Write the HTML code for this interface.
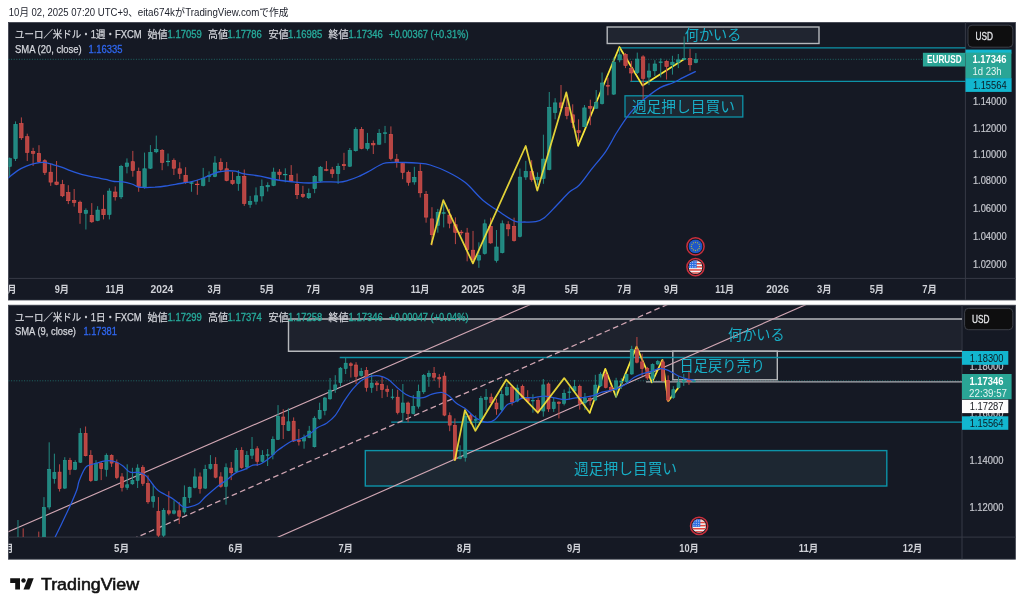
<!DOCTYPE html>
<html lang="ja"><head><meta charset="utf-8"><title>EURUSD chart</title>
<style>html,body{margin:0;padding:0;background:#fff;}svg{display:block;will-change:transform}</style></head>
<body>
<svg width="1024" height="609" viewBox="0 0 1024 609" font-family="Liberation Sans, Noto Sans CJK JP, sans-serif">
<defs>
<clipPath id="cpT"><rect x="8.5" y="22.5" width="957" height="256"/></clipPath>
<clipPath id="cpB"><rect x="8.5" y="305.2" width="953.5" height="231.8"/></clipPath>
<clipPath id="cpTA"><rect x="8.5" y="278" width="957" height="22"/></clipPath>
<clipPath id="cpBA"><rect x="8.5" y="537" width="953.5" height="22"/></clipPath>
<clipPath id="ic"><circle cx="0" cy="0" r="6.9"/></clipPath>
</defs>
<rect width="1024" height="609" fill="#fff"/>
<text x="8.80" y="16.38" font-size="10" fill="#1c1f2a" textLength="129.00" lengthAdjust="spacingAndGlyphs" >10月 02, 2025 07:20 UTC+9、</text>
<text x="137.70" y="16.38" font-size="10" fill="#1c1f2a" textLength="37.20" lengthAdjust="spacingAndGlyphs" >eita674k</text>
<text x="175.00" y="16.38" font-size="10" fill="#1c1f2a" textLength="10.00" lengthAdjust="spacingAndGlyphs" >が</text>
<text x="185.20" y="16.38" font-size="10" fill="#1c1f2a" textLength="74.10" lengthAdjust="spacingAndGlyphs" >TradingView.com</text>
<text x="259.30" y="16.38" font-size="10" fill="#1c1f2a" textLength="29.30" lengthAdjust="spacingAndGlyphs" >で作成</text>
<rect x="8.5" y="22.5" width="1006.9" height="277.5" fill="#151924"/>
<rect x="8.5" y="22.5" width="1006.9" height="277.5" fill="none" stroke="#3b3f4b" stroke-width=".8"/>
<path d="M965.4 22.5V300" stroke="#363a46" stroke-width="1"/>
<path d="M8.5 278.4H1015.4" stroke="#363a46" stroke-width="1"/>
<path d="M8.5 59.3H923" stroke="#26a69a" stroke-width="1" stroke-dasharray="1 1.6" opacity=".55"/>
<rect x="607.2" y="27" width="211.8" height="16.5" fill="#2a303b" fill-opacity=".55" stroke="#b6b8bc" stroke-width="1.4"/>
<path d="M619.4 47.8H965.4" stroke="#0d93a8" stroke-width="1.3"/>
<path d="M630.3 81.4H965.4" stroke="#0d93a8" stroke-width="1.3"/>
<rect x="625" y="95.8" width="117.8" height="21.2" fill="#25353f" fill-opacity=".5" stroke="#0d93a8" stroke-width="1.3"/>
<g clip-path="url(#cpT)">
<polyline points="578.2,145.6 619.4,47.0 642.6,85.6 683.9,59.3" fill="none" stroke="#f7e53a" stroke-width="1.75" stroke-linejoin="round" stroke-linecap="round" />
</g>
<g clip-path="url(#cpT)">
<path d="M9.65 157.5V176.8" stroke="#238a82" stroke-width="1"/>
<rect x="7.95" y="158.6" width="3.4" height="7.7" fill="#228780" stroke="#25a296" stroke-width=".6"/>
<path d="M15.52 121.4V161.0" stroke="#238a82" stroke-width="1"/>
<rect x="13.82" y="124.4" width="3.4" height="34.2" fill="#228780" stroke="#25a296" stroke-width=".6"/>
<path d="M21.38 117.4V139.9" stroke="#bb4745" stroke-width="1"/>
<rect x="19.68" y="123.5" width="3.4" height="14.3" fill="#b74644" stroke="#df514c" stroke-width=".6"/>
<path d="M27.25 133.7V161.0" stroke="#bb4745" stroke-width="1"/>
<rect x="25.55" y="136.7" width="3.4" height="15.7" fill="#b74644" stroke="#df514c" stroke-width=".6"/>
<path d="M33.11 147.8V165.9" stroke="#bb4745" stroke-width="1"/>
<rect x="31.41" y="151.6" width="3.4" height="1.7" fill="#b74644" stroke="#df514c" stroke-width=".6"/>
<path d="M38.98 145.2V162.7" stroke="#bb4745" stroke-width="1"/>
<rect x="37.28" y="153.4" width="3.4" height="8.2" fill="#b74644" stroke="#df514c" stroke-width=".6"/>
<path d="M44.84 159.2V175.0" stroke="#bb4745" stroke-width="1"/>
<rect x="43.14" y="160.7" width="3.4" height="11.8" fill="#b74644" stroke="#df514c" stroke-width=".6"/>
<path d="M50.71 163.6V185.9" stroke="#bb4745" stroke-width="1"/>
<rect x="49.01" y="172.2" width="3.4" height="9.9" fill="#b74644" stroke="#df514c" stroke-width=".6"/>
<path d="M56.57 161.0V185.2" stroke="#bb4745" stroke-width="1"/>
<rect x="54.87" y="182.0" width="3.4" height="2.4" fill="#b74644" stroke="#df514c" stroke-width=".6"/>
<path d="M62.44 179.9V197.1" stroke="#bb4745" stroke-width="1"/>
<rect x="60.74" y="184.6" width="3.4" height="11.2" fill="#b74644" stroke="#df514c" stroke-width=".6"/>
<path d="M68.30 185.2V204.1" stroke="#bb4745" stroke-width="1"/>
<rect x="66.60" y="192.5" width="3.4" height="8.2" fill="#b74644" stroke="#df514c" stroke-width=".6"/>
<path d="M74.17 189.0V206.6" stroke="#bb4745" stroke-width="1"/>
<rect x="72.47" y="200.4" width="3.4" height="2.0" fill="#b74644" stroke="#df514c" stroke-width=".6"/>
<path d="M80.03 200.6V223.8" stroke="#bb4745" stroke-width="1"/>
<rect x="78.33" y="202.2" width="3.4" height="10.4" fill="#b74644" stroke="#df514c" stroke-width=".6"/>
<path d="M85.90 208.4V229.5" stroke="#238a82" stroke-width="1"/>
<rect x="84.20" y="210.4" width="3.4" height="2.9" fill="#228780" stroke="#25a296" stroke-width=".6"/>
<path d="M91.77 203.1V222.9" stroke="#bb4745" stroke-width="1"/>
<rect x="90.07" y="215.3" width="3.4" height="6.5" fill="#b74644" stroke="#df514c" stroke-width=".6"/>
<path d="M97.63 206.2V221.2" stroke="#238a82" stroke-width="1"/>
<rect x="95.93" y="210.1" width="3.4" height="10.3" fill="#228780" stroke="#25a296" stroke-width=".6"/>
<path d="M103.50 194.8V219.4" stroke="#bb4745" stroke-width="1"/>
<rect x="101.80" y="209.2" width="3.4" height="5.5" fill="#b74644" stroke="#df514c" stroke-width=".6"/>
<path d="M109.36 188.3V219.4" stroke="#238a82" stroke-width="1"/>
<rect x="107.66" y="191.1" width="3.4" height="23.3" fill="#228780" stroke="#25a296" stroke-width=".6"/>
<path d="M115.23 186.4V200.6" stroke="#bb4745" stroke-width="1"/>
<rect x="113.53" y="192.0" width="3.4" height="4.8" fill="#b74644" stroke="#df514c" stroke-width=".6"/>
<path d="M121.09 164.9V198.9" stroke="#238a82" stroke-width="1"/>
<rect x="119.39" y="166.5" width="3.4" height="30.3" fill="#228780" stroke="#25a296" stroke-width=".6"/>
<path d="M126.96 158.4V173.4" stroke="#238a82" stroke-width="1"/>
<rect x="125.26" y="163.0" width="3.4" height="3.4" fill="#228780" stroke="#25a296" stroke-width=".6"/>
<path d="M132.82 150.9V176.7" stroke="#bb4745" stroke-width="1"/>
<rect x="131.12" y="161.7" width="3.4" height="8.7" fill="#b74644" stroke="#df514c" stroke-width=".6"/>
<path d="M138.69 167.6V191.8" stroke="#bb4745" stroke-width="1"/>
<rect x="136.99" y="171.4" width="3.4" height="15.2" fill="#b74644" stroke="#df514c" stroke-width=".6"/>
<path d="M144.55 152.6V188.7" stroke="#238a82" stroke-width="1"/>
<rect x="142.85" y="168.8" width="3.4" height="18.3" fill="#228780" stroke="#25a296" stroke-width=".6"/>
<path d="M150.42 145.1V169.0" stroke="#238a82" stroke-width="1"/>
<rect x="148.72" y="152.4" width="3.4" height="15.8" fill="#228780" stroke="#25a296" stroke-width=".6"/>
<path d="M156.28 135.6V153.2" stroke="#238a82" stroke-width="1"/>
<rect x="154.59" y="149.4" width="3.4" height="2.4" fill="#228780" stroke="#25a296" stroke-width=".6"/>
<path d="M162.15 149.1V170.2" stroke="#bb4745" stroke-width="1"/>
<rect x="160.45" y="150.3" width="3.4" height="12.1" fill="#b74644" stroke="#df514c" stroke-width=".6"/>
<path d="M168.02 153.5V166.2" stroke="#238a82" stroke-width="1"/>
<rect x="166.32" y="161.2" width="3.4" height="0.6" fill="#228780" stroke="#25a296" stroke-width=".6"/>
<path d="M173.88 158.4V175.0" stroke="#bb4745" stroke-width="1"/>
<rect x="172.18" y="160.5" width="3.4" height="7.7" fill="#b74644" stroke="#df514c" stroke-width=".6"/>
<path d="M179.75 162.3V179.0" stroke="#bb4745" stroke-width="1"/>
<rect x="178.05" y="168.8" width="3.4" height="4.6" fill="#b74644" stroke="#df514c" stroke-width=".6"/>
<path d="M185.61 167.2V183.8" stroke="#bb4745" stroke-width="1"/>
<rect x="183.91" y="175.3" width="3.4" height="7.4" fill="#b74644" stroke="#df514c" stroke-width=".6"/>
<path d="M191.48 181.3V191.8" stroke="#238a82" stroke-width="1"/>
<rect x="189.78" y="182.7" width="3.4" height="0.6" fill="#228780" stroke="#25a296" stroke-width=".6"/>
<path d="M197.34 179.9V194.8" stroke="#bb4745" stroke-width="1"/>
<rect x="195.64" y="184.1" width="3.4" height="0.6" fill="#b74644" stroke="#df514c" stroke-width=".6"/>
<path d="M203.21 167.9V186.4" stroke="#238a82" stroke-width="1"/>
<rect x="201.51" y="178.4" width="3.4" height="7.0" fill="#228780" stroke="#25a296" stroke-width=".6"/>
<path d="M209.07 171.4V182.0" stroke="#238a82" stroke-width="1"/>
<rect x="207.37" y="175.8" width="3.4" height="0.6" fill="#228780" stroke="#25a296" stroke-width=".6"/>
<path d="M214.94 156.2V177.2" stroke="#238a82" stroke-width="1"/>
<rect x="213.24" y="163.0" width="3.4" height="13.4" fill="#228780" stroke="#25a296" stroke-width=".6"/>
<path d="M220.80 158.3V171.1" stroke="#bb4745" stroke-width="1"/>
<rect x="219.10" y="162.3" width="3.4" height="7.1" fill="#b74644" stroke="#df514c" stroke-width=".6"/>
<path d="M226.67 162.0V181.3" stroke="#bb4745" stroke-width="1"/>
<rect x="224.97" y="168.8" width="3.4" height="11.7" fill="#b74644" stroke="#df514c" stroke-width=".6"/>
<path d="M232.54 172.0V184.8" stroke="#bb4745" stroke-width="1"/>
<rect x="230.84" y="180.5" width="3.4" height="3.0" fill="#b74644" stroke="#df514c" stroke-width=".6"/>
<path d="M238.40 170.2V190.8" stroke="#238a82" stroke-width="1"/>
<rect x="236.70" y="176.3" width="3.4" height="7.2" fill="#228780" stroke="#25a296" stroke-width=".6"/>
<path d="M244.27 169.5V205.9" stroke="#bb4745" stroke-width="1"/>
<rect x="242.57" y="176.3" width="3.4" height="27.2" fill="#b74644" stroke="#df514c" stroke-width=".6"/>
<path d="M250.13 195.9V207.8" stroke="#238a82" stroke-width="1"/>
<rect x="248.43" y="201.4" width="3.4" height="2.9" fill="#228780" stroke="#25a296" stroke-width=".6"/>
<path d="M256.00 187.4V204.6" stroke="#238a82" stroke-width="1"/>
<rect x="254.30" y="195.8" width="3.4" height="5.4" fill="#228780" stroke="#25a296" stroke-width=".6"/>
<path d="M261.86 179.5V201.5" stroke="#238a82" stroke-width="1"/>
<rect x="260.16" y="186.5" width="3.4" height="9.4" fill="#228780" stroke="#25a296" stroke-width=".6"/>
<path d="M267.73 182.3V191.5" stroke="#238a82" stroke-width="1"/>
<rect x="266.03" y="185.3" width="3.4" height="1.5" fill="#228780" stroke="#25a296" stroke-width=".6"/>
<path d="M273.59 167.7V186.2" stroke="#238a82" stroke-width="1"/>
<rect x="271.89" y="172.1" width="3.4" height="13.3" fill="#228780" stroke="#25a296" stroke-width=".6"/>
<path d="M279.46 169.1V179.7" stroke="#bb4745" stroke-width="1"/>
<rect x="277.76" y="172.1" width="3.4" height="2.4" fill="#b74644" stroke="#df514c" stroke-width=".6"/>
<path d="M285.32 168.3V182.3" stroke="#238a82" stroke-width="1"/>
<rect x="283.62" y="174.3" width="3.4" height="0.6" fill="#228780" stroke="#25a296" stroke-width=".6"/>
<path d="M291.19 165.1V182.1" stroke="#bb4745" stroke-width="1"/>
<rect x="289.49" y="175.4" width="3.4" height="5.7" fill="#b74644" stroke="#df514c" stroke-width=".6"/>
<path d="M297.05 173.5V199.0" stroke="#bb4745" stroke-width="1"/>
<rect x="295.35" y="184.4" width="3.4" height="10.3" fill="#b74644" stroke="#df514c" stroke-width=".6"/>
<path d="M302.92 185.8V198.0" stroke="#bb4745" stroke-width="1"/>
<rect x="301.22" y="194.4" width="3.4" height="2.0" fill="#b74644" stroke="#df514c" stroke-width=".6"/>
<path d="M308.79 188.5V199.0" stroke="#238a82" stroke-width="1"/>
<rect x="307.09" y="193.5" width="3.4" height="4.2" fill="#228780" stroke="#25a296" stroke-width=".6"/>
<path d="M314.65 175.1V193.2" stroke="#238a82" stroke-width="1"/>
<rect x="312.95" y="176.5" width="3.4" height="12.0" fill="#228780" stroke="#25a296" stroke-width=".6"/>
<path d="M320.52 166.0V182.1" stroke="#238a82" stroke-width="1"/>
<rect x="318.82" y="167.2" width="3.4" height="13.9" fill="#228780" stroke="#25a296" stroke-width=".6"/>
<path d="M326.38 161.1V171.2" stroke="#bb4745" stroke-width="1"/>
<rect x="324.68" y="169.7" width="3.4" height="0.6" fill="#b74644" stroke="#df514c" stroke-width=".6"/>
<path d="M332.25 166.9V177.8" stroke="#bb4745" stroke-width="1"/>
<rect x="330.55" y="169.8" width="3.4" height="3.8" fill="#b74644" stroke="#df514c" stroke-width=".6"/>
<path d="M338.11 163.3V183.9" stroke="#238a82" stroke-width="1"/>
<rect x="336.41" y="166.3" width="3.4" height="7.3" fill="#228780" stroke="#25a296" stroke-width=".6"/>
<path d="M343.98 152.8V170.0" stroke="#bb4745" stroke-width="1"/>
<rect x="342.28" y="164.5" width="3.4" height="1.2" fill="#b74644" stroke="#df514c" stroke-width=".6"/>
<path d="M349.84 148.0V167.0" stroke="#238a82" stroke-width="1"/>
<rect x="348.14" y="150.5" width="3.4" height="15.7" fill="#228780" stroke="#25a296" stroke-width=".6"/>
<path d="M355.71 127.3V151.6" stroke="#238a82" stroke-width="1"/>
<rect x="354.01" y="129.4" width="3.4" height="21.3" fill="#228780" stroke="#25a296" stroke-width=".6"/>
<path d="M361.57 127.0V149.3" stroke="#bb4745" stroke-width="1"/>
<rect x="359.87" y="129.4" width="3.4" height="19.1" fill="#b74644" stroke="#df514c" stroke-width=".6"/>
<path d="M367.44 132.9V150.5" stroke="#238a82" stroke-width="1"/>
<rect x="365.74" y="143.4" width="3.4" height="5.1" fill="#228780" stroke="#25a296" stroke-width=".6"/>
<path d="M373.30 140.5V154.0" stroke="#bb4745" stroke-width="1"/>
<rect x="371.60" y="143.4" width="3.4" height="1.5" fill="#b74644" stroke="#df514c" stroke-width=".6"/>
<path d="M379.17 129.1V144.9" stroke="#238a82" stroke-width="1"/>
<rect x="377.47" y="133.4" width="3.4" height="10.8" fill="#228780" stroke="#25a296" stroke-width=".6"/>
<path d="M385.04 125.9V143.1" stroke="#238a82" stroke-width="1"/>
<rect x="383.34" y="132.8" width="3.4" height="0.6" fill="#228780" stroke="#25a296" stroke-width=".6"/>
<path d="M390.90 126.4V160.4" stroke="#bb4745" stroke-width="1"/>
<rect x="389.20" y="134.3" width="3.4" height="24.3" fill="#b74644" stroke="#df514c" stroke-width=".6"/>
<path d="M396.77 154.0V167.7" stroke="#bb4745" stroke-width="1"/>
<rect x="395.07" y="159.2" width="3.4" height="3.3" fill="#b74644" stroke="#df514c" stroke-width=".6"/>
<path d="M402.63 162.5V179.2" stroke="#bb4745" stroke-width="1"/>
<rect x="400.93" y="163.6" width="3.4" height="8.8" fill="#b74644" stroke="#df514c" stroke-width=".6"/>
<path d="M408.50 170.6V185.7" stroke="#bb4745" stroke-width="1"/>
<rect x="406.80" y="172.3" width="3.4" height="10.0" fill="#b74644" stroke="#df514c" stroke-width=".6"/>
<path d="M414.36 166.8V184.7" stroke="#238a82" stroke-width="1"/>
<rect x="412.66" y="177.3" width="3.4" height="4.6" fill="#228780" stroke="#25a296" stroke-width=".6"/>
<path d="M420.23 164.1V197.5" stroke="#bb4745" stroke-width="1"/>
<rect x="418.53" y="171.5" width="3.4" height="21.3" fill="#b74644" stroke="#df514c" stroke-width=".6"/>
<path d="M426.09 191.0V222.7" stroke="#bb4745" stroke-width="1"/>
<rect x="424.39" y="194.3" width="3.4" height="22.8" fill="#b74644" stroke="#df514c" stroke-width=".6"/>
<path d="M431.96 207.2V245.5" stroke="#bb4745" stroke-width="1"/>
<rect x="430.26" y="218.9" width="3.4" height="15.8" fill="#b74644" stroke="#df514c" stroke-width=".6"/>
<path d="M437.82 208.9V232.7" stroke="#238a82" stroke-width="1"/>
<rect x="436.12" y="212.4" width="3.4" height="12.9" fill="#228780" stroke="#25a296" stroke-width=".6"/>
<path d="M443.69 203.3V227.4" stroke="#238a82" stroke-width="1"/>
<rect x="441.99" y="212.7" width="3.4" height="0.6" fill="#228780" stroke="#25a296" stroke-width=".6"/>
<path d="M449.56 208.9V228.3" stroke="#bb4745" stroke-width="1"/>
<rect x="447.86" y="215.0" width="3.4" height="8.2" fill="#b74644" stroke="#df514c" stroke-width=".6"/>
<path d="M455.42 217.4V244.1" stroke="#bb4745" stroke-width="1"/>
<rect x="453.72" y="224.7" width="3.4" height="7.7" fill="#b74644" stroke="#df514c" stroke-width=".6"/>
<path d="M461.29 230.0V235.3" stroke="#bb4745" stroke-width="1"/>
<rect x="459.59" y="232.1" width="3.4" height="0.8" fill="#b74644" stroke="#df514c" stroke-width=".6"/>
<path d="M467.15 227.9V261.3" stroke="#bb4745" stroke-width="1"/>
<rect x="465.45" y="233.0" width="3.4" height="16.6" fill="#b74644" stroke="#df514c" stroke-width=".6"/>
<path d="M473.02 230.9V263.4" stroke="#bb4745" stroke-width="1"/>
<rect x="471.32" y="250.2" width="3.4" height="9.4" fill="#b74644" stroke="#df514c" stroke-width=".6"/>
<path d="M478.88 242.3V267.8" stroke="#238a82" stroke-width="1"/>
<rect x="477.18" y="255.5" width="3.4" height="4.6" fill="#228780" stroke="#25a296" stroke-width=".6"/>
<path d="M484.75 219.5V254.6" stroke="#238a82" stroke-width="1"/>
<rect x="483.05" y="223.8" width="3.4" height="29.7" fill="#228780" stroke="#25a296" stroke-width=".6"/>
<path d="M490.61 217.7V243.8" stroke="#bb4745" stroke-width="1"/>
<rect x="488.91" y="226.3" width="3.4" height="16.6" fill="#b74644" stroke="#df514c" stroke-width=".6"/>
<path d="M496.48 230.0V262.6" stroke="#238a82" stroke-width="1"/>
<rect x="494.78" y="247.0" width="3.4" height="13.5" fill="#228780" stroke="#25a296" stroke-width=".6"/>
<path d="M502.34 220.4V253.4" stroke="#238a82" stroke-width="1"/>
<rect x="500.64" y="223.8" width="3.4" height="28.8" fill="#228780" stroke="#25a296" stroke-width=".6"/>
<path d="M508.21 221.2V236.2" stroke="#bb4745" stroke-width="1"/>
<rect x="506.51" y="224.7" width="3.4" height="4.2" fill="#b74644" stroke="#df514c" stroke-width=".6"/>
<path d="M514.07 217.7V241.6" stroke="#bb4745" stroke-width="1"/>
<rect x="512.37" y="226.3" width="3.4" height="14.3" fill="#b74644" stroke="#df514c" stroke-width=".6"/>
<path d="M519.94 168.5V237.4" stroke="#238a82" stroke-width="1"/>
<rect x="518.24" y="177.1" width="3.4" height="59.3" fill="#228780" stroke="#25a296" stroke-width=".6"/>
<path d="M525.81 160.9V179.9" stroke="#238a82" stroke-width="1"/>
<rect x="524.11" y="171.4" width="3.4" height="5.6" fill="#228780" stroke="#25a296" stroke-width=".6"/>
<path d="M531.67 160.2V181.7" stroke="#bb4745" stroke-width="1"/>
<rect x="529.97" y="171.4" width="3.4" height="8.2" fill="#b74644" stroke="#df514c" stroke-width=".6"/>
<path d="M537.54 172.4V185.2" stroke="#238a82" stroke-width="1"/>
<rect x="535.84" y="177.2" width="3.4" height="2.4" fill="#228780" stroke="#25a296" stroke-width=".6"/>
<path d="M543.40 134.7V183.8" stroke="#238a82" stroke-width="1"/>
<rect x="541.70" y="159.1" width="3.4" height="19.3" fill="#228780" stroke="#25a296" stroke-width=".6"/>
<path d="M549.27 92.0V170.3" stroke="#238a82" stroke-width="1"/>
<rect x="547.57" y="107.3" width="3.4" height="62.1" fill="#228780" stroke="#25a296" stroke-width=".6"/>
<path d="M555.13 98.2V119.3" stroke="#238a82" stroke-width="1"/>
<rect x="553.43" y="102.9" width="3.4" height="9.6" fill="#228780" stroke="#25a296" stroke-width=".6"/>
<path d="M561.00 85.0V111.4" stroke="#bb4745" stroke-width="1"/>
<rect x="559.30" y="102.9" width="3.4" height="4.7" fill="#b74644" stroke="#df514c" stroke-width=".6"/>
<path d="M566.86 94.7V119.3" stroke="#bb4745" stroke-width="1"/>
<rect x="565.16" y="107.3" width="3.4" height="8.2" fill="#b74644" stroke="#df514c" stroke-width=".6"/>
<path d="M572.73 104.3V128.1" stroke="#bb4745" stroke-width="1"/>
<rect x="571.03" y="114.8" width="3.4" height="7.7" fill="#b74644" stroke="#df514c" stroke-width=".6"/>
<path d="M578.59 119.3V141.2" stroke="#bb4745" stroke-width="1"/>
<rect x="576.89" y="130.7" width="3.4" height="1.8" fill="#b74644" stroke="#df514c" stroke-width=".6"/>
<path d="M584.46 105.0V127.3" stroke="#238a82" stroke-width="1"/>
<rect x="582.76" y="107.9" width="3.4" height="18.8" fill="#228780" stroke="#25a296" stroke-width=".6"/>
<path d="M590.32 99.7V125.2" stroke="#bb4745" stroke-width="1"/>
<rect x="588.62" y="106.5" width="3.4" height="1.7" fill="#b74644" stroke="#df514c" stroke-width=".6"/>
<path d="M596.19 90.0V109.0" stroke="#238a82" stroke-width="1"/>
<rect x="594.49" y="102.6" width="3.4" height="5.6" fill="#228780" stroke="#25a296" stroke-width=".6"/>
<path d="M602.06 72.5V104.5" stroke="#238a82" stroke-width="1"/>
<rect x="600.36" y="83.0" width="3.4" height="20.5" fill="#228780" stroke="#25a296" stroke-width=".6"/>
<path d="M607.92 77.7V95.3" stroke="#bb4745" stroke-width="1"/>
<rect x="606.22" y="85.4" width="3.4" height="0.8" fill="#b74644" stroke="#df514c" stroke-width=".6"/>
<path d="M613.79 57.5V95.0" stroke="#238a82" stroke-width="1"/>
<rect x="612.09" y="62.2" width="3.4" height="31.9" fill="#228780" stroke="#25a296" stroke-width=".6"/>
<path d="M619.65 47.9V62.3" stroke="#238a82" stroke-width="1"/>
<rect x="617.95" y="54.8" width="3.4" height="5.1" fill="#228780" stroke="#25a296" stroke-width=".6"/>
<path d="M625.52 53.1V68.1" stroke="#bb4745" stroke-width="1"/>
<rect x="623.82" y="54.3" width="3.4" height="11.2" fill="#b74644" stroke="#df514c" stroke-width=".6"/>
<path d="M631.38 61.0V81.2" stroke="#bb4745" stroke-width="1"/>
<rect x="629.68" y="68.4" width="3.4" height="4.6" fill="#b74644" stroke="#df514c" stroke-width=".6"/>
<path d="M637.25 52.6V73.9" stroke="#238a82" stroke-width="1"/>
<rect x="635.55" y="59.1" width="3.4" height="13.4" fill="#228780" stroke="#25a296" stroke-width=".6"/>
<path d="M643.11 55.2V100.6" stroke="#bb4745" stroke-width="1"/>
<rect x="641.41" y="56.9" width="3.4" height="21.4" fill="#b74644" stroke="#df514c" stroke-width=".6"/>
<path d="M648.98 63.3V85.1" stroke="#238a82" stroke-width="1"/>
<rect x="647.28" y="71.0" width="3.4" height="6.1" fill="#228780" stroke="#25a296" stroke-width=".6"/>
<path d="M654.84 60.2V76.0" stroke="#238a82" stroke-width="1"/>
<rect x="653.14" y="64.0" width="3.4" height="6.8" fill="#228780" stroke="#25a296" stroke-width=".6"/>
<path d="M660.71 58.4V77.4" stroke="#238a82" stroke-width="1"/>
<rect x="659.01" y="61.9" width="3.4" height="0.6" fill="#228780" stroke="#25a296" stroke-width=".6"/>
<path d="M666.57 60.2V79.5" stroke="#bb4745" stroke-width="1"/>
<rect x="664.87" y="61.3" width="3.4" height="5.2" fill="#b74644" stroke="#df514c" stroke-width=".6"/>
<path d="M672.44 55.8V74.6" stroke="#238a82" stroke-width="1"/>
<rect x="670.74" y="62.2" width="3.4" height="2.6" fill="#228780" stroke="#25a296" stroke-width=".6"/>
<path d="M678.31 54.0V68.1" stroke="#238a82" stroke-width="1"/>
<rect x="676.61" y="59.9" width="3.4" height="2.2" fill="#228780" stroke="#25a296" stroke-width=".6"/>
<path d="M684.17 36.4V60.2" stroke="#238a82" stroke-width="1"/>
<rect x="682.47" y="58.3" width="3.4" height="1.0" fill="#228780" stroke="#25a296" stroke-width=".6"/>
<path d="M690.04 48.7V70.7" stroke="#bb4745" stroke-width="1"/>
<rect x="688.34" y="58.3" width="3.4" height="6.5" fill="#b74644" stroke="#df514c" stroke-width=".6"/>
<path d="M695.90 53.1V63.3" stroke="#238a82" stroke-width="1"/>
<rect x="694.20" y="59.6" width="3.4" height="2.9" fill="#228780" stroke="#25a296" stroke-width=".6"/>
</g>
<g clip-path="url(#cpT)">
<path d="M8.5 178.0C8.7 177.8 8.2 178.0 9.7 176.8C11.2 175.6 14.8 172.4 17.6 170.6C20.4 168.8 23.5 167.4 26.4 166.2C29.3 165.0 32.3 163.9 35.2 163.3C38.1 162.7 41.0 162.2 43.9 162.4C46.8 162.6 49.8 163.7 52.7 164.5C55.6 165.3 58.6 166.1 61.5 167.1C64.4 168.1 67.4 169.5 70.3 170.6C73.2 171.7 76.2 172.7 79.1 173.6C82.0 174.5 85.0 175.2 87.9 175.9C90.8 176.6 93.8 177.1 96.7 177.7C99.6 178.3 102.6 178.8 105.5 179.4C108.4 180.0 111.4 181.1 114.3 181.5C117.2 181.9 120.1 181.4 123.0 181.8C125.9 182.2 129.3 183.2 131.8 184.0C134.3 184.8 135.9 186.3 138.0 186.9C140.1 187.5 141.6 187.4 144.4 187.5C147.2 187.6 151.5 187.4 155.0 187.2C158.5 186.9 160.8 186.7 165.5 186.0C170.2 185.3 178.6 183.7 183.0 183.0C187.4 182.3 188.9 182.3 191.8 181.6C194.7 180.9 197.7 180.0 200.6 179.0C203.5 178.0 206.5 176.7 209.4 175.5C212.3 174.3 215.3 172.8 218.2 172.0C221.1 171.2 224.1 170.9 227.0 170.8C229.9 170.7 232.6 170.7 235.5 171.2C238.4 171.7 240.2 173.1 244.3 173.9C248.4 174.7 254.6 175.2 260.2 176.2C265.8 177.2 271.8 179.0 277.7 180.0C283.6 181.0 290.0 181.6 295.3 182.1C300.6 182.6 304.7 183.1 309.4 183.0C314.1 182.9 318.4 182.0 323.4 181.8C328.4 181.7 335.2 182.3 339.3 182.1C343.4 181.9 344.8 181.3 348.0 180.4C351.2 179.5 355.1 178.0 358.6 176.5C362.1 175.0 365.0 173.4 369.1 171.2C373.2 169.0 379.4 164.9 383.2 163.5C387.0 162.1 388.4 162.7 392.0 162.5C395.6 162.3 400.7 162.4 405.0 162.5C409.3 162.6 413.8 162.8 418.0 163.2C422.2 163.6 425.2 163.5 430.2 165.0C435.1 166.5 441.8 169.1 447.7 172.0C453.6 174.9 459.4 177.9 465.3 182.6C471.2 187.3 477.0 195.2 482.9 200.2C488.8 205.2 495.2 209.0 500.5 212.5C505.8 216.0 510.4 219.6 514.5 221.2C518.6 222.8 521.5 221.9 525.0 222.0C528.5 222.1 532.4 222.3 535.6 221.6C538.8 220.9 540.8 220.5 544.4 217.7C548.0 214.9 552.8 209.3 557.0 205.0C561.2 200.7 565.7 195.3 569.4 192.0C573.1 188.7 575.4 189.0 579.1 185.2C582.8 181.4 587.0 175.0 591.4 169.4C595.8 163.8 601.2 158.0 605.5 151.8C609.8 145.6 613.0 138.5 617.1 132.0C621.2 125.5 626.0 118.1 630.3 112.9C634.5 107.7 637.6 104.8 642.6 100.6C647.6 96.4 655.2 90.5 660.2 87.6C665.2 84.7 668.7 84.7 672.5 83.0C676.3 81.3 679.2 79.6 683.0 77.7C686.8 75.8 693.2 72.6 695.3 71.6" fill="none" stroke="#2859da" stroke-width="1.3" stroke-linejoin="round" stroke-linecap="round" />
<polyline points="431.4,244.1 443.3,200.2 472.9,263.4 525.7,146.0 537.3,190.5 566.3,92.4 578.2,145.6" fill="none" stroke="#f7e53a" stroke-width="1.75" stroke-linejoin="round" stroke-linecap="round" opacity=".9"/>
</g>
<text x="684.80" y="40.32" font-size="14.3" fill="#18aec6" textLength="56.60" lengthAdjust="spacingAndGlyphs" >何かいる</text>
<text x="631.90" y="111.56" font-size="14.7" fill="#18aec6" textLength="103.10" lengthAdjust="spacingAndGlyphs" >週足押し目買い</text>
<g transform="translate(695.5,246.4)">
<circle r="8.6" fill="#151924" stroke="#cc2f3c" stroke-width="1.5"/>
<g clip-path="url(#ic)">
<rect x="-7" y="-7" width="14" height="14" fill="#1f57c8"/>
<circle cx="4.10" cy="0.00" r=".65" fill="#b5b83a"/>
<circle cx="3.55" cy="2.05" r=".65" fill="#b5b83a"/>
<circle cx="2.05" cy="3.55" r=".65" fill="#b5b83a"/>
<circle cx="0.00" cy="4.10" r=".65" fill="#b5b83a"/>
<circle cx="-2.05" cy="3.55" r=".65" fill="#b5b83a"/>
<circle cx="-3.55" cy="2.05" r=".65" fill="#b5b83a"/>
<circle cx="-4.10" cy="0.00" r=".65" fill="#b5b83a"/>
<circle cx="-3.55" cy="-2.05" r=".65" fill="#b5b83a"/>
<circle cx="-2.05" cy="-3.55" r=".65" fill="#b5b83a"/>
<circle cx="-0.00" cy="-4.10" r=".65" fill="#b5b83a"/>
<circle cx="2.05" cy="-3.55" r=".65" fill="#b5b83a"/>
<circle cx="3.55" cy="-2.05" r=".65" fill="#b5b83a"/>
</g></g>
<g transform="translate(695.5,267.1)">
<circle r="8.6" fill="#151924" stroke="#cc2f3c" stroke-width="1.5"/>
<g clip-path="url(#ic)">
<rect x="-7" y="-7" width="14" height="14" fill="#f2f2f2"/>
<rect x="-7" y="-7.20" width="14" height="1.5" fill="#e2463f"/>
<rect x="-7" y="-4.10" width="14" height="1.5" fill="#e2463f"/>
<rect x="-7" y="-1.00" width="14" height="1.5" fill="#e2463f"/>
<rect x="-7" y="2.10" width="14" height="1.5" fill="#e2463f"/>
<rect x="-7" y="5.20" width="14" height="1.5" fill="#e2463f"/>
<rect x="-7" y="-7" width="8.2" height="8" fill="#2f6fe0"/>
<circle cx="-5.2" cy="-5.0" r=".55" fill="#dfe8ff"/>
<circle cx="-5.2" cy="-2.6" r=".55" fill="#dfe8ff"/>
<circle cx="-5.2" cy="-0.2" r=".55" fill="#dfe8ff"/>
<circle cx="-2.8" cy="-5.0" r=".55" fill="#dfe8ff"/>
<circle cx="-2.8" cy="-2.6" r=".55" fill="#dfe8ff"/>
<circle cx="-2.8" cy="-0.2" r=".55" fill="#dfe8ff"/>
<circle cx="-0.4" cy="-5.0" r=".55" fill="#dfe8ff"/>
<circle cx="-0.4" cy="-2.6" r=".55" fill="#dfe8ff"/>
<circle cx="-0.4" cy="-0.2" r=".55" fill="#dfe8ff"/>
</g></g>
<text x="15.00" y="38.48" font-size="10" fill="#d4d6dc" textLength="126.75" lengthAdjust="spacingAndGlyphs" stroke="#d4d6dc" stroke-width="0.25" >ユーロ／米ドル・1週・FXCM</text>
<text x="147.50" y="38.48" font-size="10" fill="#d4d6dc" textLength="20.00" lengthAdjust="spacingAndGlyphs" stroke="#d4d6dc" stroke-width="0.2" >始値</text>
<text x="167.50" y="38.48" font-size="10" fill="#27ab9c" textLength="34.20" lengthAdjust="spacingAndGlyphs" stroke="#27ab9c" stroke-width="0.3" >1.17059</text>
<text x="208.00" y="38.48" font-size="10" fill="#d4d6dc" textLength="20.00" lengthAdjust="spacingAndGlyphs" stroke="#d4d6dc" stroke-width="0.2" >高値</text>
<text x="227.50" y="38.48" font-size="10" fill="#27ab9c" textLength="34.20" lengthAdjust="spacingAndGlyphs" stroke="#27ab9c" stroke-width="0.3" >1.17786</text>
<text x="268.50" y="38.48" font-size="10" fill="#d4d6dc" textLength="20.00" lengthAdjust="spacingAndGlyphs" stroke="#d4d6dc" stroke-width="0.2" >安値</text>
<text x="288.00" y="38.48" font-size="10" fill="#27ab9c" textLength="34.20" lengthAdjust="spacingAndGlyphs" stroke="#27ab9c" stroke-width="0.3" >1.16985</text>
<text x="328.50" y="38.48" font-size="10" fill="#d4d6dc" textLength="20.00" lengthAdjust="spacingAndGlyphs" stroke="#d4d6dc" stroke-width="0.2" >終値</text>
<text x="348.50" y="38.48" font-size="10" fill="#27ab9c" textLength="34.20" lengthAdjust="spacingAndGlyphs" stroke="#27ab9c" stroke-width="0.3" >1.17346</text>
<text x="389.00" y="38.48" font-size="10" fill="#27ab9c" textLength="79.50" lengthAdjust="spacingAndGlyphs" stroke="#27ab9c" stroke-width="0.3" >+0.00367 (+0.31%)</text>
<text x="15.00" y="52.58" font-size="10" fill="#d4d6dc" textLength="66.75" lengthAdjust="spacingAndGlyphs" stroke="#d4d6dc" stroke-width="0.25" >SMA (20, close)</text>
<text x="88.50" y="52.58" font-size="10" fill="#2f66ee" textLength="34.00" lengthAdjust="spacingAndGlyphs" stroke="#2f66ee" stroke-width="0.3" >1.16335</text>
<text x="972.90" y="105.26" font-size="10.5" fill="#c6c8cf" textLength="33.70" lengthAdjust="spacingAndGlyphs" stroke="#c6c8cf" stroke-width="0.2" >1.14000</text>
<text x="972.90" y="131.86" font-size="10.5" fill="#c6c8cf" textLength="33.70" lengthAdjust="spacingAndGlyphs" stroke="#c6c8cf" stroke-width="0.2" >1.12000</text>
<text x="972.90" y="157.86" font-size="10.5" fill="#c6c8cf" textLength="33.70" lengthAdjust="spacingAndGlyphs" stroke="#c6c8cf" stroke-width="0.2" >1.10000</text>
<text x="972.90" y="184.36" font-size="10.5" fill="#c6c8cf" textLength="33.70" lengthAdjust="spacingAndGlyphs" stroke="#c6c8cf" stroke-width="0.2" >1.08000</text>
<text x="972.90" y="211.86" font-size="10.5" fill="#c6c8cf" textLength="33.70" lengthAdjust="spacingAndGlyphs" stroke="#c6c8cf" stroke-width="0.2" >1.06000</text>
<text x="972.90" y="240.16" font-size="10.5" fill="#c6c8cf" textLength="33.70" lengthAdjust="spacingAndGlyphs" stroke="#c6c8cf" stroke-width="0.2" >1.04000</text>
<text x="972.90" y="268.26" font-size="10.5" fill="#c6c8cf" textLength="33.70" lengthAdjust="spacingAndGlyphs" stroke="#c6c8cf" stroke-width="0.2" >1.02000</text>
<rect x="968" y="25.2" width="44.8" height="22" rx="4" fill="#0e0e0f" stroke="#42454e" stroke-width=".9"/>
<text x="975.40" y="40.36" font-size="10.5" fill="#e4e5e8" textLength="17.50" lengthAdjust="spacingAndGlyphs" stroke="#e4e5e8" stroke-width="0.3" >USD</text>
<rect x="965.5" y="49.6" width="46" height="4" fill="#12b6cf"/>
<rect x="965.5" y="52.6" width="45.9" height="25.6" fill="#2aa596"/>
<text x="972.50" y="63.16" font-size="10.5" fill="#fff" textLength="34.10" lengthAdjust="spacingAndGlyphs" font-weight="bold" >1.17346</text>
<text x="972.50" y="75.06" font-size="10.5" fill="#e6f5f2" textLength="29.10" lengthAdjust="spacingAndGlyphs" >1d 23h</text>
<rect x="965.5" y="78.1" width="46.1" height="13.8" fill="#12b6cf"/>
<text x="972.90" y="89.36" font-size="10.5" fill="#0c1a22" textLength="33.70" lengthAdjust="spacingAndGlyphs" >1.15564</text>
<rect x="922.9" y="52.8" width="42.3" height="13.7" fill="#2aa596"/>
<text x="927.00" y="63.38" font-size="10" fill="#fff" textLength="34.60" lengthAdjust="spacingAndGlyphs" font-weight="bold" >EURUSD</text>
<g clip-path="url(#cpTA)">
<text x="2.05" y="292.96" font-size="10.5" fill="#cfd1d7" textLength="14.30" lengthAdjust="spacingAndGlyphs" font-weight="bold" >7月</text>
<text x="54.75" y="292.96" font-size="10.5" fill="#cfd1d7" textLength="14.30" lengthAdjust="spacingAndGlyphs" font-weight="bold" >9月</text>
<text x="105.55" y="292.96" font-size="10.5" fill="#cfd1d7" textLength="18.90" lengthAdjust="spacingAndGlyphs" font-weight="bold" >11月</text>
<text x="150.45" y="292.96" font-size="10.5" fill="#cfd1d7" textLength="22.90" lengthAdjust="spacingAndGlyphs" font-weight="bold" >2024</text>
<text x="207.45" y="292.96" font-size="10.5" fill="#cfd1d7" textLength="14.30" lengthAdjust="spacingAndGlyphs" font-weight="bold" >3月</text>
<text x="259.95" y="292.96" font-size="10.5" fill="#cfd1d7" textLength="14.30" lengthAdjust="spacingAndGlyphs" font-weight="bold" >5月</text>
<text x="306.45" y="292.96" font-size="10.5" fill="#cfd1d7" textLength="14.30" lengthAdjust="spacingAndGlyphs" font-weight="bold" >7月</text>
<text x="359.85" y="292.96" font-size="10.5" fill="#cfd1d7" textLength="14.30" lengthAdjust="spacingAndGlyphs" font-weight="bold" >9月</text>
<text x="410.65" y="292.96" font-size="10.5" fill="#cfd1d7" textLength="18.90" lengthAdjust="spacingAndGlyphs" font-weight="bold" >11月</text>
<text x="461.20" y="292.96" font-size="10.5" fill="#cfd1d7" textLength="23.20" lengthAdjust="spacingAndGlyphs" font-weight="bold" >2025</text>
<text x="511.95" y="292.96" font-size="10.5" fill="#cfd1d7" textLength="14.30" lengthAdjust="spacingAndGlyphs" font-weight="bold" >3月</text>
<text x="564.75" y="292.96" font-size="10.5" fill="#cfd1d7" textLength="14.30" lengthAdjust="spacingAndGlyphs" font-weight="bold" >5月</text>
<text x="617.30" y="292.96" font-size="10.5" fill="#cfd1d7" textLength="14.60" lengthAdjust="spacingAndGlyphs" font-weight="bold" >7月</text>
<text x="664.00" y="292.96" font-size="10.5" fill="#cfd1d7" textLength="14.80" lengthAdjust="spacingAndGlyphs" font-weight="bold" >9月</text>
<text x="715.35" y="292.96" font-size="10.5" fill="#cfd1d7" textLength="18.70" lengthAdjust="spacingAndGlyphs" font-weight="bold" >11月</text>
<text x="766.15" y="292.96" font-size="10.5" fill="#cfd1d7" textLength="22.70" lengthAdjust="spacingAndGlyphs" font-weight="bold" >2026</text>
<text x="817.00" y="292.96" font-size="10.5" fill="#cfd1d7" textLength="14.60" lengthAdjust="spacingAndGlyphs" font-weight="bold" >3月</text>
<text x="869.70" y="292.96" font-size="10.5" fill="#cfd1d7" textLength="14.40" lengthAdjust="spacingAndGlyphs" font-weight="bold" >5月</text>
<text x="922.20" y="292.96" font-size="10.5" fill="#cfd1d7" textLength="14.60" lengthAdjust="spacingAndGlyphs" font-weight="bold" >7月</text>
</g>
<rect x="8.5" y="305.2" width="1006.9" height="254" fill="#151924"/>
<rect x="8.5" y="305.2" width="1006.9" height="254" fill="none" stroke="#3b3f4b" stroke-width=".8"/>
<path d="M962 305.2V559.2" stroke="#363a46" stroke-width="1"/>
<path d="M8.5 537.1H1015.4" stroke="#363a46" stroke-width="1"/>
<path d="M8.5 380.8H962" stroke="#26a69a" stroke-width="1" stroke-dasharray="1 1.6" opacity=".55"/>
<rect x="288.5" y="319" width="673.5" height="32.2" fill="#2a303b" fill-opacity=".42"/>
<path d="M962 319H288.5V351.2H962" fill="none" stroke="#b6b8bc" stroke-width="1.4"/>
<rect x="672.8" y="351.2" width="104.5" height="28.6" fill="#2a303b" fill-opacity=".45" stroke="#b6b8bc" stroke-width="1.4"/>
<path d="M646 381.9H962" stroke="#adafb4" stroke-width="1.4"/>
<path d="M339.7 357.5H962" stroke="#0d93a8" stroke-width="1.3"/>
<path d="M391.2 422.1H962" stroke="#0d93a8" stroke-width="1.3"/>
<rect x="365.3" y="450.6" width="521.5" height="35.4" fill="#25353f" fill-opacity=".5" stroke="#0d93a8" stroke-width="1.4"/>
<g clip-path="url(#cpB)">
<polyline points="0.0,535.4 560.0,291.6" fill="none" stroke="#cfa5b2" stroke-width="1.15" stroke-linejoin="round" stroke-linecap="round" />
<polyline points="124.0,542.9 700.0,290.2" fill="none" stroke="#cfa5b2" stroke-width="1.3" stroke-linejoin="round" stroke-linecap="butt" stroke-dasharray="5.7 3.35"/>
<polyline points="250.0,549.5 840.0,289.6" fill="none" stroke="#cfa5b2" stroke-width="1.15" stroke-linejoin="round" stroke-linecap="round" />
</g>
<g clip-path="url(#cpB)">
<polyline points="589.7,412.7 605.3,368.9 616.0,396.8 636.6,346.7 651.9,382.4 662.4,359.9 668.2,401.2 678.8,387.1" fill="none" stroke="#f7e53a" stroke-width="1.75" stroke-linejoin="round" stroke-linecap="round" />
</g>
<g clip-path="url(#cpB)">
<path d="M17.98 520.0V553.0" stroke="#238a82" stroke-width="1"/>
<rect x="16.48" y="542.8" width="3.0" height="9.9" fill="#228780" stroke="#25a296" stroke-width=".6"/>
<path d="M23.18 528.4V553.0" stroke="#bb4745" stroke-width="1"/>
<rect x="21.68" y="544.6" width="3.0" height="8.1" fill="#b74644" stroke="#df514c" stroke-width=".6"/>
<path d="M38.78 531.6V553.0" stroke="#bb4745" stroke-width="1"/>
<rect x="37.28" y="542.8" width="3.0" height="9.9" fill="#b74644" stroke="#df514c" stroke-width=".6"/>
<path d="M43.98 497.1V544.3" stroke="#238a82" stroke-width="1"/>
<rect x="42.48" y="507.6" width="3.0" height="34.6" fill="#228780" stroke="#25a296" stroke-width=".6"/>
<path d="M49.18 442.3V509.5" stroke="#238a82" stroke-width="1"/>
<rect x="47.68" y="469.3" width="3.0" height="37.7" fill="#228780" stroke="#25a296" stroke-width=".6"/>
<path d="M54.39 453.7V483.6" stroke="#238a82" stroke-width="1"/>
<rect x="52.89" y="472.5" width="3.0" height="6.1" fill="#228780" stroke="#25a296" stroke-width=".6"/>
<path d="M59.59 464.3V491.5" stroke="#bb4745" stroke-width="1"/>
<rect x="58.09" y="472.1" width="3.0" height="16.5" fill="#b74644" stroke="#df514c" stroke-width=".6"/>
<path d="M64.79 457.2V488.9" stroke="#238a82" stroke-width="1"/>
<rect x="63.29" y="460.5" width="3.0" height="27.6" fill="#228780" stroke="#25a296" stroke-width=".6"/>
<path d="M69.99 457.8V474.8" stroke="#bb4745" stroke-width="1"/>
<rect x="68.49" y="460.5" width="3.0" height="8.8" fill="#b74644" stroke="#df514c" stroke-width=".6"/>
<path d="M75.19 460.2V470.1" stroke="#238a82" stroke-width="1"/>
<rect x="73.69" y="462.3" width="3.0" height="7.0" fill="#228780" stroke="#25a296" stroke-width=".6"/>
<path d="M80.39 428.2V463.0" stroke="#238a82" stroke-width="1"/>
<rect x="78.89" y="433.5" width="3.0" height="28.7" fill="#228780" stroke="#25a296" stroke-width=".6"/>
<path d="M85.59 426.5V456.4" stroke="#bb4745" stroke-width="1"/>
<rect x="84.09" y="433.5" width="3.0" height="22.2" fill="#b74644" stroke="#df514c" stroke-width=".6"/>
<path d="M90.80 450.2V481.9" stroke="#bb4745" stroke-width="1"/>
<rect x="89.30" y="455.4" width="3.0" height="25.3" fill="#b74644" stroke="#df514c" stroke-width=".6"/>
<path d="M96.00 460.2V481.0" stroke="#238a82" stroke-width="1"/>
<rect x="94.50" y="463.3" width="3.0" height="17.0" fill="#228780" stroke="#25a296" stroke-width=".6"/>
<path d="M101.20 462.2V480.1" stroke="#bb4745" stroke-width="1"/>
<rect x="99.70" y="463.3" width="3.0" height="5.4" fill="#b74644" stroke="#df514c" stroke-width=".6"/>
<path d="M106.40 453.4V476.6" stroke="#238a82" stroke-width="1"/>
<rect x="104.90" y="455.4" width="3.0" height="13.9" fill="#228780" stroke="#25a296" stroke-width=".6"/>
<path d="M111.60 454.3V466.9" stroke="#bb4745" stroke-width="1"/>
<rect x="110.10" y="455.4" width="3.0" height="7.7" fill="#b74644" stroke="#df514c" stroke-width=".6"/>
<path d="M116.80 459.5V479.2" stroke="#bb4745" stroke-width="1"/>
<rect x="115.30" y="462.8" width="3.0" height="14.7" fill="#b74644" stroke="#df514c" stroke-width=".6"/>
<path d="M122.00 473.1V491.5" stroke="#bb4745" stroke-width="1"/>
<rect x="120.50" y="476.9" width="3.0" height="10.5" fill="#b74644" stroke="#df514c" stroke-width=".6"/>
<path d="M127.20 464.3V489.8" stroke="#238a82" stroke-width="1"/>
<rect x="125.70" y="484.8" width="3.0" height="2.6" fill="#228780" stroke="#25a296" stroke-width=".6"/>
<path d="M132.41 467.8V484.8" stroke="#238a82" stroke-width="1"/>
<rect x="130.91" y="480.4" width="3.0" height="3.4" fill="#228780" stroke="#25a296" stroke-width=".6"/>
<path d="M137.61 464.3V488.0" stroke="#238a82" stroke-width="1"/>
<rect x="136.11" y="468.1" width="3.0" height="12.2" fill="#228780" stroke="#25a296" stroke-width=".6"/>
<path d="M142.81 465.2V485.9" stroke="#bb4745" stroke-width="1"/>
<rect x="141.31" y="467.6" width="3.0" height="15.7" fill="#b74644" stroke="#df514c" stroke-width=".6"/>
<path d="M148.01 475.4V503.8" stroke="#bb4745" stroke-width="1"/>
<rect x="146.51" y="483.6" width="3.0" height="18.2" fill="#b74644" stroke="#df514c" stroke-width=".6"/>
<path d="M153.21 485.4V507.7" stroke="#238a82" stroke-width="1"/>
<rect x="151.71" y="496.7" width="3.0" height="4.7" fill="#228780" stroke="#25a296" stroke-width=".6"/>
<path d="M158.41 497.1V542.5" stroke="#bb4745" stroke-width="1"/>
<rect x="156.91" y="511.5" width="3.0" height="23.7" fill="#b74644" stroke="#df514c" stroke-width=".6"/>
<path d="M163.61 508.2V539.0" stroke="#238a82" stroke-width="1"/>
<rect x="162.11" y="510.3" width="3.0" height="24.9" fill="#228780" stroke="#25a296" stroke-width=".6"/>
<path d="M168.82 491.2V515.3" stroke="#bb4745" stroke-width="1"/>
<rect x="167.32" y="510.8" width="3.0" height="2.4" fill="#b74644" stroke="#df514c" stroke-width=".6"/>
<path d="M174.02 500.3V514.4" stroke="#238a82" stroke-width="1"/>
<rect x="172.52" y="510.8" width="3.0" height="2.4" fill="#228780" stroke="#25a296" stroke-width=".6"/>
<path d="M179.22 502.1V524.0" stroke="#bb4745" stroke-width="1"/>
<rect x="177.72" y="510.8" width="3.0" height="5.4" fill="#b74644" stroke="#df514c" stroke-width=".6"/>
<path d="M184.42 485.4V514.4" stroke="#238a82" stroke-width="1"/>
<rect x="182.92" y="497.4" width="3.0" height="14.6" fill="#228780" stroke="#25a296" stroke-width=".6"/>
<path d="M189.62 486.6V502.9" stroke="#238a82" stroke-width="1"/>
<rect x="188.12" y="487.4" width="3.0" height="10.0" fill="#228780" stroke="#25a296" stroke-width=".6"/>
<path d="M194.82 468.3V488.4" stroke="#238a82" stroke-width="1"/>
<rect x="193.32" y="476.9" width="3.0" height="10.5" fill="#228780" stroke="#25a296" stroke-width=".6"/>
<path d="M200.02 472.5V493.6" stroke="#bb4745" stroke-width="1"/>
<rect x="198.52" y="476.9" width="3.0" height="11.7" fill="#b74644" stroke="#df514c" stroke-width=".6"/>
<path d="M205.22 464.8V488.9" stroke="#238a82" stroke-width="1"/>
<rect x="203.72" y="469.3" width="3.0" height="18.8" fill="#228780" stroke="#25a296" stroke-width=".6"/>
<path d="M210.43 455.1V469.6" stroke="#238a82" stroke-width="1"/>
<rect x="208.93" y="464.6" width="3.0" height="3.8" fill="#228780" stroke="#25a296" stroke-width=".6"/>
<path d="M215.63 457.2V478.3" stroke="#bb4745" stroke-width="1"/>
<rect x="214.13" y="464.6" width="3.0" height="12.6" fill="#b74644" stroke="#df514c" stroke-width=".6"/>
<path d="M220.83 472.2V487.7" stroke="#bb4745" stroke-width="1"/>
<rect x="219.33" y="476.9" width="3.0" height="9.4" fill="#b74644" stroke="#df514c" stroke-width=".6"/>
<path d="M226.03 463.4V504.7" stroke="#238a82" stroke-width="1"/>
<rect x="224.53" y="467.7" width="3.0" height="18.6" fill="#228780" stroke="#25a296" stroke-width=".6"/>
<path d="M231.23 462.0V480.1" stroke="#bb4745" stroke-width="1"/>
<rect x="229.73" y="468.1" width="3.0" height="4.7" fill="#b74644" stroke="#df514c" stroke-width=".6"/>
<path d="M236.43 447.9V472.5" stroke="#238a82" stroke-width="1"/>
<rect x="234.93" y="450.5" width="3.0" height="21.0" fill="#228780" stroke="#25a296" stroke-width=".6"/>
<path d="M241.63 447.2V468.7" stroke="#bb4745" stroke-width="1"/>
<rect x="240.13" y="450.5" width="3.0" height="17.0" fill="#b74644" stroke="#df514c" stroke-width=".6"/>
<path d="M246.83 451.1V469.6" stroke="#238a82" stroke-width="1"/>
<rect x="245.33" y="455.4" width="3.0" height="11.6" fill="#228780" stroke="#25a296" stroke-width=".6"/>
<path d="M252.04 437.0V459.0" stroke="#238a82" stroke-width="1"/>
<rect x="250.54" y="449.3" width="3.0" height="5.9" fill="#228780" stroke="#25a296" stroke-width=".6"/>
<path d="M257.24 446.2V466.0" stroke="#bb4745" stroke-width="1"/>
<rect x="255.74" y="448.8" width="3.0" height="12.5" fill="#b74644" stroke="#df514c" stroke-width=".6"/>
<path d="M262.44 450.2V462.5" stroke="#238a82" stroke-width="1"/>
<rect x="260.94" y="455.4" width="3.0" height="5.9" fill="#228780" stroke="#25a296" stroke-width=".6"/>
<path d="M267.64 449.0V466.0" stroke="#238a82" stroke-width="1"/>
<rect x="266.14" y="454.8" width="3.0" height="0.6" fill="#228780" stroke="#25a296" stroke-width=".6"/>
<path d="M272.84 436.4V459.3" stroke="#238a82" stroke-width="1"/>
<rect x="271.34" y="439.3" width="3.0" height="15.3" fill="#228780" stroke="#25a296" stroke-width=".6"/>
<path d="M278.04 405.1V439.9" stroke="#238a82" stroke-width="1"/>
<rect x="276.54" y="416.5" width="3.0" height="22.8" fill="#228780" stroke="#25a296" stroke-width=".6"/>
<path d="M283.24 409.2V439.0" stroke="#bb4745" stroke-width="1"/>
<rect x="281.74" y="417.0" width="3.0" height="7.7" fill="#b74644" stroke="#df514c" stroke-width=".6"/>
<path d="M288.45 408.3V431.1" stroke="#238a82" stroke-width="1"/>
<rect x="286.95" y="421.8" width="3.0" height="8.7" fill="#228780" stroke="#25a296" stroke-width=".6"/>
<path d="M293.65 417.4V442.0" stroke="#bb4745" stroke-width="1"/>
<rect x="292.15" y="421.2" width="3.0" height="19.8" fill="#b74644" stroke="#df514c" stroke-width=".6"/>
<path d="M298.85 429.0V445.5" stroke="#bb4745" stroke-width="1"/>
<rect x="297.35" y="440.2" width="3.0" height="1.2" fill="#b74644" stroke="#df514c" stroke-width=".6"/>
<path d="M304.05 434.6V448.7" stroke="#238a82" stroke-width="1"/>
<rect x="302.55" y="437.6" width="3.0" height="3.4" fill="#228780" stroke="#25a296" stroke-width=".6"/>
<path d="M309.25 425.9V438.2" stroke="#238a82" stroke-width="1"/>
<rect x="307.75" y="431.1" width="3.0" height="6.4" fill="#228780" stroke="#25a296" stroke-width=".6"/>
<path d="M314.45 416.2V447.5" stroke="#238a82" stroke-width="1"/>
<rect x="312.95" y="418.2" width="3.0" height="28.5" fill="#228780" stroke="#25a296" stroke-width=".6"/>
<path d="M319.65 402.7V419.7" stroke="#238a82" stroke-width="1"/>
<rect x="318.15" y="410.3" width="3.0" height="8.2" fill="#228780" stroke="#25a296" stroke-width=".6"/>
<path d="M324.85 396.9V415.3" stroke="#238a82" stroke-width="1"/>
<rect x="323.35" y="398.0" width="3.0" height="12.6" fill="#228780" stroke="#25a296" stroke-width=".6"/>
<path d="M330.06 378.0V399.8" stroke="#238a82" stroke-width="1"/>
<rect x="328.56" y="390.1" width="3.0" height="8.7" fill="#228780" stroke="#25a296" stroke-width=".6"/>
<path d="M335.26 375.2V392.8" stroke="#238a82" stroke-width="1"/>
<rect x="333.76" y="384.9" width="3.0" height="4.6" fill="#228780" stroke="#25a296" stroke-width=".6"/>
<path d="M340.46 367.0V386.3" stroke="#238a82" stroke-width="1"/>
<rect x="338.96" y="368.2" width="3.0" height="14.3" fill="#228780" stroke="#25a296" stroke-width=".6"/>
<path d="M345.66 357.3V374.0" stroke="#238a82" stroke-width="1"/>
<rect x="344.16" y="363.2" width="3.0" height="5.2" fill="#228780" stroke="#25a296" stroke-width=".6"/>
<path d="M350.86 362.2V377.5" stroke="#bb4745" stroke-width="1"/>
<rect x="349.36" y="363.8" width="3.0" height="1.6" fill="#b74644" stroke="#df514c" stroke-width=".6"/>
<path d="M356.06 362.2V384.0" stroke="#bb4745" stroke-width="1"/>
<rect x="354.56" y="365.0" width="3.0" height="11.3" fill="#b74644" stroke="#df514c" stroke-width=".6"/>
<path d="M361.26 367.9V376.6" stroke="#238a82" stroke-width="1"/>
<rect x="359.76" y="371.3" width="3.0" height="4.2" fill="#228780" stroke="#25a296" stroke-width=".6"/>
<path d="M366.46 367.0V391.6" stroke="#bb4745" stroke-width="1"/>
<rect x="364.96" y="370.4" width="3.0" height="17.0" fill="#b74644" stroke="#df514c" stroke-width=".6"/>
<path d="M371.67 374.0V392.8" stroke="#238a82" stroke-width="1"/>
<rect x="370.17" y="383.1" width="3.0" height="4.3" fill="#228780" stroke="#25a296" stroke-width=".6"/>
<path d="M376.87 381.0V391.1" stroke="#bb4745" stroke-width="1"/>
<rect x="375.37" y="383.1" width="3.0" height="1.7" fill="#b74644" stroke="#df514c" stroke-width=".6"/>
<path d="M382.07 376.6V398.1" stroke="#bb4745" stroke-width="1"/>
<rect x="380.57" y="384.3" width="3.0" height="5.2" fill="#b74644" stroke="#df514c" stroke-width=".6"/>
<path d="M387.27 385.4V396.9" stroke="#bb4745" stroke-width="1"/>
<rect x="385.77" y="389.2" width="3.0" height="2.1" fill="#b74644" stroke="#df514c" stroke-width=".6"/>
<path d="M392.47 388.9V399.5" stroke="#238a82" stroke-width="1"/>
<rect x="390.97" y="397.0" width="3.0" height="0.6" fill="#228780" stroke="#25a296" stroke-width=".6"/>
<path d="M397.67 389.8V414.4" stroke="#bb4745" stroke-width="1"/>
<rect x="396.17" y="397.2" width="3.0" height="15.2" fill="#b74644" stroke="#df514c" stroke-width=".6"/>
<path d="M402.87 384.0V420.9" stroke="#238a82" stroke-width="1"/>
<rect x="401.37" y="403.0" width="3.0" height="9.4" fill="#228780" stroke="#25a296" stroke-width=".6"/>
<path d="M408.08 401.6V422.3" stroke="#bb4745" stroke-width="1"/>
<rect x="406.58" y="403.0" width="3.0" height="10.6" fill="#b74644" stroke="#df514c" stroke-width=".6"/>
<path d="M413.28 395.1V414.4" stroke="#238a82" stroke-width="1"/>
<rect x="411.78" y="406.5" width="3.0" height="7.1" fill="#228780" stroke="#25a296" stroke-width=".6"/>
<path d="M418.48 384.6V408.6" stroke="#238a82" stroke-width="1"/>
<rect x="416.98" y="391.4" width="3.0" height="14.8" fill="#228780" stroke="#25a296" stroke-width=".6"/>
<path d="M423.68 374.0V393.9" stroke="#238a82" stroke-width="1"/>
<rect x="422.18" y="375.5" width="3.0" height="16.3" fill="#228780" stroke="#25a296" stroke-width=".6"/>
<path d="M428.88 370.5V386.8" stroke="#238a82" stroke-width="1"/>
<rect x="427.38" y="373.4" width="3.0" height="2.9" fill="#228780" stroke="#25a296" stroke-width=".6"/>
<path d="M434.08 367.0V381.0" stroke="#bb4745" stroke-width="1"/>
<rect x="432.58" y="373.4" width="3.0" height="3.8" fill="#b74644" stroke="#df514c" stroke-width=".6"/>
<path d="M439.28 374.1V387.8" stroke="#bb4745" stroke-width="1"/>
<rect x="437.78" y="377.5" width="3.0" height="1.5" fill="#b74644" stroke="#df514c" stroke-width=".6"/>
<path d="M444.48 372.3V416.2" stroke="#bb4745" stroke-width="1"/>
<rect x="442.98" y="376.1" width="3.0" height="39.0" fill="#b74644" stroke="#df514c" stroke-width=".6"/>
<path d="M449.69 412.4V431.2" stroke="#bb4745" stroke-width="1"/>
<rect x="448.19" y="415.7" width="3.0" height="9.4" fill="#b74644" stroke="#df514c" stroke-width=".6"/>
<path d="M454.89 418.4V460.5" stroke="#bb4745" stroke-width="1"/>
<rect x="453.39" y="425.3" width="3.0" height="33.7" fill="#b74644" stroke="#df514c" stroke-width=".6"/>
<path d="M460.09 445.3V459.3" stroke="#238a82" stroke-width="1"/>
<rect x="458.59" y="457.0" width="3.0" height="1.5" fill="#228780" stroke="#25a296" stroke-width=".6"/>
<path d="M465.29 412.4V461.6" stroke="#238a82" stroke-width="1"/>
<rect x="463.79" y="416.5" width="3.0" height="40.8" fill="#228780" stroke="#25a296" stroke-width=".6"/>
<path d="M470.49 413.6V424.2" stroke="#bb4745" stroke-width="1"/>
<rect x="468.99" y="415.7" width="3.0" height="4.6" fill="#b74644" stroke="#df514c" stroke-width=".6"/>
<path d="M475.69 415.4V428.9" stroke="#238a82" stroke-width="1"/>
<rect x="474.19" y="419.2" width="3.0" height="1.1" fill="#228780" stroke="#25a296" stroke-width=".6"/>
<path d="M480.89 396.0V419.8" stroke="#238a82" stroke-width="1"/>
<rect x="479.39" y="398.6" width="3.0" height="20.0" fill="#228780" stroke="#25a296" stroke-width=".6"/>
<path d="M486.10 389.0V411.0" stroke="#238a82" stroke-width="1"/>
<rect x="484.60" y="397.2" width="3.0" height="2.1" fill="#228780" stroke="#25a296" stroke-width=".6"/>
<path d="M491.30 393.4V404.8" stroke="#bb4745" stroke-width="1"/>
<rect x="489.80" y="397.2" width="3.0" height="5.6" fill="#b74644" stroke="#df514c" stroke-width=".6"/>
<path d="M496.50 398.7V414.8" stroke="#bb4745" stroke-width="1"/>
<rect x="495.00" y="403.0" width="3.0" height="5.9" fill="#b74644" stroke="#df514c" stroke-width=".6"/>
<path d="M501.70 389.9V411.0" stroke="#238a82" stroke-width="1"/>
<rect x="500.20" y="394.6" width="3.0" height="14.8" fill="#228780" stroke="#25a296" stroke-width=".6"/>
<path d="M506.90 382.9V396.0" stroke="#238a82" stroke-width="1"/>
<rect x="505.40" y="387.5" width="3.0" height="7.4" fill="#228780" stroke="#25a296" stroke-width=".6"/>
<path d="M512.10 385.5V405.4" stroke="#bb4745" stroke-width="1"/>
<rect x="510.60" y="387.0" width="3.0" height="14.9" fill="#b74644" stroke="#df514c" stroke-width=".6"/>
<path d="M517.30 384.6V402.2" stroke="#238a82" stroke-width="1"/>
<rect x="515.80" y="388.1" width="3.0" height="12.9" fill="#228780" stroke="#25a296" stroke-width=".6"/>
<path d="M522.50 384.6V398.7" stroke="#bb4745" stroke-width="1"/>
<rect x="521.00" y="386.3" width="3.0" height="11.2" fill="#b74644" stroke="#df514c" stroke-width=".6"/>
<path d="M527.71 390.2V403.1" stroke="#bb4745" stroke-width="1"/>
<rect x="526.21" y="398.1" width="3.0" height="3.4" fill="#b74644" stroke="#df514c" stroke-width=".6"/>
<path d="M532.91 394.3V412.7" stroke="#238a82" stroke-width="1"/>
<rect x="531.41" y="400.4" width="3.0" height="0.6" fill="#228780" stroke="#25a296" stroke-width=".6"/>
<path d="M538.11 397.8V413.6" stroke="#bb4745" stroke-width="1"/>
<rect x="536.61" y="400.4" width="3.0" height="11.2" fill="#b74644" stroke="#df514c" stroke-width=".6"/>
<path d="M543.31 379.0V416.6" stroke="#238a82" stroke-width="1"/>
<rect x="541.81" y="384.9" width="3.0" height="26.1" fill="#228780" stroke="#25a296" stroke-width=".6"/>
<path d="M548.51 382.5V411.9" stroke="#bb4745" stroke-width="1"/>
<rect x="547.01" y="384.0" width="3.0" height="24.9" fill="#b74644" stroke="#df514c" stroke-width=".6"/>
<path d="M553.71 397.8V411.9" stroke="#238a82" stroke-width="1"/>
<rect x="552.21" y="402.1" width="3.0" height="6.5" fill="#228780" stroke="#25a296" stroke-width=".6"/>
<path d="M558.91 401.3V418.4" stroke="#bb4745" stroke-width="1"/>
<rect x="557.41" y="402.1" width="3.0" height="1.2" fill="#b74644" stroke="#df514c" stroke-width=".6"/>
<path d="M564.11 389.5V405.4" stroke="#238a82" stroke-width="1"/>
<rect x="562.61" y="393.3" width="3.0" height="10.0" fill="#228780" stroke="#25a296" stroke-width=".6"/>
<path d="M569.32 387.2V399.6" stroke="#238a82" stroke-width="1"/>
<rect x="567.82" y="391.9" width="3.0" height="0.8" fill="#228780" stroke="#25a296" stroke-width=".6"/>
<path d="M574.52 379.9V392.0" stroke="#238a82" stroke-width="1"/>
<rect x="573.02" y="386.7" width="3.0" height="4.3" fill="#228780" stroke="#25a296" stroke-width=".6"/>
<path d="M579.72 384.6V409.6" stroke="#bb4745" stroke-width="1"/>
<rect x="578.22" y="386.3" width="3.0" height="17.0" fill="#b74644" stroke="#df514c" stroke-width=".6"/>
<path d="M584.92 393.0V410.1" stroke="#238a82" stroke-width="1"/>
<rect x="583.42" y="398.1" width="3.0" height="4.7" fill="#228780" stroke="#25a296" stroke-width=".6"/>
<path d="M590.12 396.6V405.4" stroke="#bb4745" stroke-width="1"/>
<rect x="588.62" y="398.6" width="3.0" height="1.9" fill="#b74644" stroke="#df514c" stroke-width=".6"/>
<path d="M595.32 374.8V401.2" stroke="#238a82" stroke-width="1"/>
<rect x="593.82" y="385.1" width="3.0" height="14.9" fill="#228780" stroke="#25a296" stroke-width=".6"/>
<path d="M600.52 372.2V387.1" stroke="#238a82" stroke-width="1"/>
<rect x="599.02" y="374.2" width="3.0" height="11.7" fill="#228780" stroke="#25a296" stroke-width=".6"/>
<path d="M605.73 371.3V388.4" stroke="#bb4745" stroke-width="1"/>
<rect x="604.23" y="374.6" width="3.0" height="12.8" fill="#b74644" stroke="#df514c" stroke-width=".6"/>
<path d="M610.93 385.9V392.4" stroke="#bb4745" stroke-width="1"/>
<rect x="609.43" y="387.4" width="3.0" height="2.9" fill="#b74644" stroke="#df514c" stroke-width=".6"/>
<path d="M616.13 377.8V397.7" stroke="#238a82" stroke-width="1"/>
<rect x="614.63" y="380.9" width="3.0" height="8.6" fill="#228780" stroke="#25a296" stroke-width=".6"/>
<path d="M621.33 378.3V388.9" stroke="#238a82" stroke-width="1"/>
<rect x="619.83" y="381.3" width="3.0" height="0.8" fill="#228780" stroke="#25a296" stroke-width=".6"/>
<path d="M626.53 373.9V383.6" stroke="#238a82" stroke-width="1"/>
<rect x="625.03" y="374.6" width="3.0" height="7.0" fill="#228780" stroke="#25a296" stroke-width=".6"/>
<path d="M631.73 345.8V374.8" stroke="#238a82" stroke-width="1"/>
<rect x="630.23" y="349.3" width="3.0" height="24.7" fill="#228780" stroke="#25a296" stroke-width=".6"/>
<path d="M636.93 337.0V363.4" stroke="#bb4745" stroke-width="1"/>
<rect x="635.43" y="349.3" width="3.0" height="12.9" fill="#b74644" stroke="#df514c" stroke-width=".6"/>
<path d="M642.13 353.7V376.1" stroke="#bb4745" stroke-width="1"/>
<rect x="640.63" y="361.9" width="3.0" height="6.5" fill="#b74644" stroke="#df514c" stroke-width=".6"/>
<path d="M647.34 366.9V380.1" stroke="#bb4745" stroke-width="1"/>
<rect x="645.84" y="368.6" width="3.0" height="9.4" fill="#b74644" stroke="#df514c" stroke-width=".6"/>
<path d="M652.54 363.4V382.7" stroke="#238a82" stroke-width="1"/>
<rect x="651.04" y="364.6" width="3.0" height="14.0" fill="#228780" stroke="#25a296" stroke-width=".6"/>
<path d="M657.74 359.9V365.2" stroke="#238a82" stroke-width="1"/>
<rect x="656.24" y="361.6" width="3.0" height="2.4" fill="#228780" stroke="#25a296" stroke-width=".6"/>
<path d="M662.94 359.5V381.9" stroke="#bb4745" stroke-width="1"/>
<rect x="661.44" y="361.9" width="3.0" height="18.8" fill="#b74644" stroke="#df514c" stroke-width=".6"/>
<path d="M668.14 375.4V402.1" stroke="#bb4745" stroke-width="1"/>
<rect x="666.64" y="380.4" width="3.0" height="19.6" fill="#b74644" stroke="#df514c" stroke-width=".6"/>
<path d="M673.34 386.2V398.9" stroke="#238a82" stroke-width="1"/>
<rect x="671.84" y="389.7" width="3.0" height="7.7" fill="#228780" stroke="#25a296" stroke-width=".6"/>
<path d="M678.54 376.1V388.4" stroke="#238a82" stroke-width="1"/>
<rect x="677.04" y="382.7" width="3.0" height="4.7" fill="#228780" stroke="#25a296" stroke-width=".6"/>
<path d="M683.75 373.9V385.9" stroke="#238a82" stroke-width="1"/>
<rect x="682.25" y="380.4" width="3.0" height="1.5" fill="#228780" stroke="#25a296" stroke-width=".6"/>
<path d="M688.95 370.4V384.8" stroke="#bb4745" stroke-width="1"/>
<rect x="687.45" y="380.4" width="3.0" height="1.2" fill="#b74644" stroke="#df514c" stroke-width=".6"/>
<path d="M694.15 379.6V382.4" stroke="#238a82" stroke-width="1"/>
<rect x="692.65" y="380.7" width="3.0" height="0.9" fill="#228780" stroke="#25a296" stroke-width=".6"/>
</g>
<g clip-path="url(#cpB)">
<path d="M55.2 537.0C56.3 534.7 59.5 528.3 62.0 523.0C64.5 517.7 67.8 510.9 70.3 505.4C72.8 499.9 75.3 494.1 76.8 490.0C78.3 485.9 77.7 484.7 79.1 481.0C80.5 477.3 83.5 470.5 85.3 467.8C87.1 465.1 88.2 465.7 90.0 465.0C91.8 464.3 93.2 464.1 95.8 463.4C98.4 462.7 102.1 461.0 105.5 460.8C108.9 460.6 113.1 461.1 116.0 462.0C118.9 462.9 120.7 464.3 123.0 466.0C125.3 467.7 127.4 471.1 130.1 472.2C132.8 473.3 136.3 471.8 138.9 472.4C141.5 473.0 143.6 473.7 145.9 475.7C148.2 477.7 150.9 482.0 152.9 484.5C154.9 487.0 156.2 488.9 158.2 490.6C160.2 492.3 162.4 493.0 165.0 494.5C167.6 496.0 170.9 497.4 173.8 499.4C176.7 501.4 180.2 505.2 182.6 506.5C184.9 507.8 185.3 507.8 187.9 507.3C190.5 506.9 195.5 505.6 198.4 503.8C201.3 502.1 202.2 499.7 205.4 496.8C208.6 493.9 214.2 489.0 217.7 486.2C221.2 483.4 223.6 482.3 226.5 480.1C229.4 477.9 232.4 474.9 235.3 473.1C238.2 471.4 241.2 470.9 244.1 469.6C247.0 468.3 250.3 466.1 252.9 465.2C255.5 464.3 257.0 465.6 259.9 464.3C262.8 463.0 267.6 459.5 270.5 457.2C273.4 454.9 275.2 452.5 277.5 450.6C279.8 448.7 281.7 447.6 284.0 446.0C286.3 444.4 288.7 442.5 291.4 441.3C294.1 440.1 297.3 440.1 300.2 439.0C303.1 437.9 306.0 436.5 308.9 434.6C311.8 432.7 314.8 429.5 317.7 427.6C320.6 425.7 323.6 425.2 326.5 423.2C329.4 421.1 332.4 419.0 335.3 415.3C338.2 411.6 341.2 405.6 344.1 401.2C347.0 396.8 350.0 392.4 352.9 388.9C355.8 385.4 358.8 382.3 361.7 380.2C364.6 378.1 367.6 377.0 370.5 376.3C373.4 375.6 376.4 375.3 379.3 375.8C382.2 376.3 385.1 377.4 388.0 379.3C390.9 381.2 393.9 384.7 396.8 387.2C399.7 389.7 402.7 392.4 405.6 394.2C408.5 395.9 411.5 397.1 414.4 397.7C417.3 398.3 420.3 398.3 423.2 397.7C426.1 397.1 428.9 395.1 432.0 394.2C435.1 393.3 439.1 392.2 442.0 392.5C444.9 392.8 446.8 394.2 449.1 396.0C451.5 397.8 453.5 401.1 456.1 403.1C458.7 405.2 462.0 406.1 464.9 408.3C467.8 410.5 471.1 414.1 473.7 416.2C476.3 418.2 478.4 419.6 480.7 420.6C483.0 421.6 485.3 422.5 487.7 422.4C490.1 422.3 492.6 421.4 494.8 419.8C497.0 418.2 498.8 415.2 500.9 412.7C502.9 410.2 504.9 406.6 507.1 404.8C509.3 403.1 511.5 403.4 514.1 402.2C516.7 401.0 519.7 398.5 522.9 397.8C526.1 397.1 529.9 398.1 533.4 397.8C536.9 397.5 540.5 396.0 544.0 396.0C547.5 396.0 551.0 397.2 554.5 397.8C558.0 398.4 561.6 399.6 565.1 399.6C568.6 399.6 572.4 398.2 575.6 397.8C578.8 397.4 581.5 397.7 584.4 397.3C587.3 396.9 590.3 396.5 593.2 395.6C596.1 394.8 599.1 393.1 602.0 392.2C604.9 391.3 608.4 390.9 610.8 390.4C613.2 389.8 614.0 389.9 616.4 388.9C618.8 387.9 622.3 386.4 625.2 384.5C628.1 382.6 631.0 379.3 633.9 377.5C636.8 375.7 639.8 374.6 642.7 373.6C645.6 372.6 648.6 372.2 651.5 371.3C654.4 370.4 657.4 368.4 660.3 368.3C663.2 368.2 666.2 369.6 669.1 370.8C672.0 372.0 675.0 374.4 677.9 375.7C680.8 377.0 684.1 378.2 686.7 378.9C689.3 379.6 692.5 379.9 693.7 380.1" fill="none" stroke="#2859da" stroke-width="1.25" stroke-linejoin="round" stroke-linecap="round" />
<polyline points="454.9,460.2 464.9,410.1 475.4,430.8 506.2,379.7 537.8,412.7 564.2,378.1 589.7,412.7" fill="none" stroke="#f7e53a" stroke-width="1.75" stroke-linejoin="round" stroke-linecap="round" opacity=".9"/>
</g>
<text x="15.00" y="320.78" font-size="10" fill="#d4d6dc" textLength="126.75" lengthAdjust="spacingAndGlyphs" stroke="#d4d6dc" stroke-width="0.25" >ユーロ／米ドル・1日・FXCM</text>
<text x="147.50" y="320.78" font-size="10" fill="#d4d6dc" textLength="20.00" lengthAdjust="spacingAndGlyphs" stroke="#d4d6dc" stroke-width="0.2" >始値</text>
<text x="167.50" y="320.78" font-size="10" fill="#27ab9c" textLength="34.20" lengthAdjust="spacingAndGlyphs" stroke="#27ab9c" stroke-width="0.3" >1.17299</text>
<text x="208.00" y="320.78" font-size="10" fill="#d4d6dc" textLength="20.00" lengthAdjust="spacingAndGlyphs" stroke="#d4d6dc" stroke-width="0.2" >高値</text>
<text x="227.50" y="320.78" font-size="10" fill="#27ab9c" textLength="34.20" lengthAdjust="spacingAndGlyphs" stroke="#27ab9c" stroke-width="0.3" >1.17374</text>
<text x="268.50" y="320.78" font-size="10" fill="#d4d6dc" textLength="20.00" lengthAdjust="spacingAndGlyphs" stroke="#d4d6dc" stroke-width="0.2" >安値</text>
<text x="288.00" y="320.78" font-size="10" fill="#27ab9c" textLength="34.20" lengthAdjust="spacingAndGlyphs" stroke="#27ab9c" stroke-width="0.3" >1.17258</text>
<text x="328.50" y="320.78" font-size="10" fill="#d4d6dc" textLength="20.00" lengthAdjust="spacingAndGlyphs" stroke="#d4d6dc" stroke-width="0.2" >終値</text>
<text x="348.50" y="320.78" font-size="10" fill="#27ab9c" textLength="34.20" lengthAdjust="spacingAndGlyphs" stroke="#27ab9c" stroke-width="0.3" >1.17346</text>
<text x="389.00" y="320.78" font-size="10" fill="#27ab9c" textLength="79.50" lengthAdjust="spacingAndGlyphs" stroke="#27ab9c" stroke-width="0.3" >+0.00047 (+0.04%)</text>
<text x="15.00" y="334.78" font-size="10" fill="#d4d6dc" textLength="61.00" lengthAdjust="spacingAndGlyphs" stroke="#d4d6dc" stroke-width="0.25" >SMA (9, close)</text>
<text x="83.50" y="334.78" font-size="10" fill="#2f66ee" textLength="33.30" lengthAdjust="spacingAndGlyphs" stroke="#2f66ee" stroke-width="0.3" >1.17381</text>
<text x="728.00" y="339.72" font-size="14.3" fill="#18aec6" textLength="56.60" lengthAdjust="spacingAndGlyphs" >何かいる</text>
<text x="679.60" y="371.39" font-size="14.5" fill="#18aec6" textLength="85.30" lengthAdjust="spacingAndGlyphs" >日足戻り売り</text>
<text x="574.00" y="473.76" font-size="14.7" fill="#18aec6" textLength="103.10" lengthAdjust="spacingAndGlyphs" >週足押し目買い</text>
<g transform="translate(699.1,525.9)">
<circle r="8.6" fill="#151924" stroke="#cc2f3c" stroke-width="1.5"/>
<g clip-path="url(#ic)">
<rect x="-7" y="-7" width="14" height="14" fill="#f2f2f2"/>
<rect x="-7" y="-7.20" width="14" height="1.5" fill="#e2463f"/>
<rect x="-7" y="-4.10" width="14" height="1.5" fill="#e2463f"/>
<rect x="-7" y="-1.00" width="14" height="1.5" fill="#e2463f"/>
<rect x="-7" y="2.10" width="14" height="1.5" fill="#e2463f"/>
<rect x="-7" y="5.20" width="14" height="1.5" fill="#e2463f"/>
<rect x="-7" y="-7" width="8.2" height="8" fill="#2f6fe0"/>
<circle cx="-5.2" cy="-5.0" r=".55" fill="#dfe8ff"/>
<circle cx="-5.2" cy="-2.6" r=".55" fill="#dfe8ff"/>
<circle cx="-5.2" cy="-0.2" r=".55" fill="#dfe8ff"/>
<circle cx="-2.8" cy="-5.0" r=".55" fill="#dfe8ff"/>
<circle cx="-2.8" cy="-2.6" r=".55" fill="#dfe8ff"/>
<circle cx="-2.8" cy="-0.2" r=".55" fill="#dfe8ff"/>
<circle cx="-0.4" cy="-5.0" r=".55" fill="#dfe8ff"/>
<circle cx="-0.4" cy="-2.6" r=".55" fill="#dfe8ff"/>
<circle cx="-0.4" cy="-0.2" r=".55" fill="#dfe8ff"/>
</g></g>
<text x="969.50" y="369.96" font-size="10.5" fill="#c6c8cf" textLength="34.00" lengthAdjust="spacingAndGlyphs" stroke="#c6c8cf" stroke-width="0.2" >1.18000</text>
<text x="969.50" y="416.86" font-size="10.5" fill="#c6c8cf" textLength="34.00" lengthAdjust="spacingAndGlyphs" stroke="#c6c8cf" stroke-width="0.2" >1.16000</text>
<text x="969.50" y="463.76" font-size="10.5" fill="#c6c8cf" textLength="34.00" lengthAdjust="spacingAndGlyphs" stroke="#c6c8cf" stroke-width="0.2" >1.14000</text>
<text x="969.50" y="510.66" font-size="10.5" fill="#c6c8cf" textLength="34.00" lengthAdjust="spacingAndGlyphs" stroke="#c6c8cf" stroke-width="0.2" >1.12000</text>
<rect x="964.6" y="308.3" width="48.2" height="21.4" rx="4" fill="#0e0e0f" stroke="#42454e" stroke-width=".9"/>
<text x="972.00" y="323.16" font-size="10.5" fill="#e4e5e8" textLength="17.50" lengthAdjust="spacingAndGlyphs" stroke="#e4e5e8" stroke-width="0.3" >USD</text>
<rect x="962" y="351" width="46.3" height="13.8" fill="#12b6cf"/>
<text x="969.70" y="361.86" font-size="10.5" fill="#0c1a22" textLength="33.80" lengthAdjust="spacingAndGlyphs" >1.18300</text>
<rect x="962" y="374" width="49.6" height="25.2" fill="#2aa596"/>
<text x="969.50" y="384.76" font-size="10.5" fill="#fff" textLength="34.00" lengthAdjust="spacingAndGlyphs" font-weight="bold" >1.17346</text>
<text x="969.10" y="396.56" font-size="10.5" fill="#e6f5f2" textLength="37.90" lengthAdjust="spacingAndGlyphs" >22:39:57</text>
<rect x="962" y="399.8" width="46.3" height="13.3" fill="#fdfdfd"/>
<text x="969.70" y="410.26" font-size="10.5" fill="#14161c" textLength="33.80" lengthAdjust="spacingAndGlyphs" >1.17287</text>
<rect x="962" y="416.3" width="46.3" height="13.5" fill="#12b6cf"/>
<text x="969.70" y="426.66" font-size="10.5" fill="#0c1a22" textLength="33.80" lengthAdjust="spacingAndGlyphs" >1.15564</text>
<g clip-path="url(#cpBA)">
<text x="-0.95" y="551.96" font-size="10.5" fill="#cfd1d7" textLength="14.30" lengthAdjust="spacingAndGlyphs" font-weight="bold" >4月</text>
<text x="114.10" y="551.96" font-size="10.5" fill="#cfd1d7" textLength="15.00" lengthAdjust="spacingAndGlyphs" font-weight="bold" >5月</text>
<text x="228.45" y="551.96" font-size="10.5" fill="#cfd1d7" textLength="14.70" lengthAdjust="spacingAndGlyphs" font-weight="bold" >6月</text>
<text x="338.40" y="551.96" font-size="10.5" fill="#cfd1d7" textLength="14.60" lengthAdjust="spacingAndGlyphs" font-weight="bold" >7月</text>
<text x="456.90" y="551.96" font-size="10.5" fill="#cfd1d7" textLength="15.00" lengthAdjust="spacingAndGlyphs" font-weight="bold" >8月</text>
<text x="566.90" y="551.96" font-size="10.5" fill="#cfd1d7" textLength="14.60" lengthAdjust="spacingAndGlyphs" font-weight="bold" >9月</text>
<text x="679.25" y="551.96" font-size="10.5" fill="#cfd1d7" textLength="19.50" lengthAdjust="spacingAndGlyphs" font-weight="bold" >10月</text>
<text x="798.85" y="551.96" font-size="10.5" fill="#cfd1d7" textLength="19.50" lengthAdjust="spacingAndGlyphs" font-weight="bold" >11月</text>
<text x="902.80" y="551.96" font-size="10.5" fill="#cfd1d7" textLength="19.60" lengthAdjust="spacingAndGlyphs" font-weight="bold" >12月</text>
</g>
<path d="M10.2 578.3H20V589.5H15.2V583H10.2Z" fill="#121212"/>
<circle cx="23.5" cy="580.5" r="2.25" fill="#121212"/>
<path d="M27.9 578.3H33.7L29.4 589.5H23.5Z" fill="#121212"/>
<text x="40.90" y="589.52" font-size="15.7" fill="#121212" textLength="98.20" lengthAdjust="spacingAndGlyphs" stroke="#121212" stroke-width=".55">TradingView</text>
</svg></body></html>
